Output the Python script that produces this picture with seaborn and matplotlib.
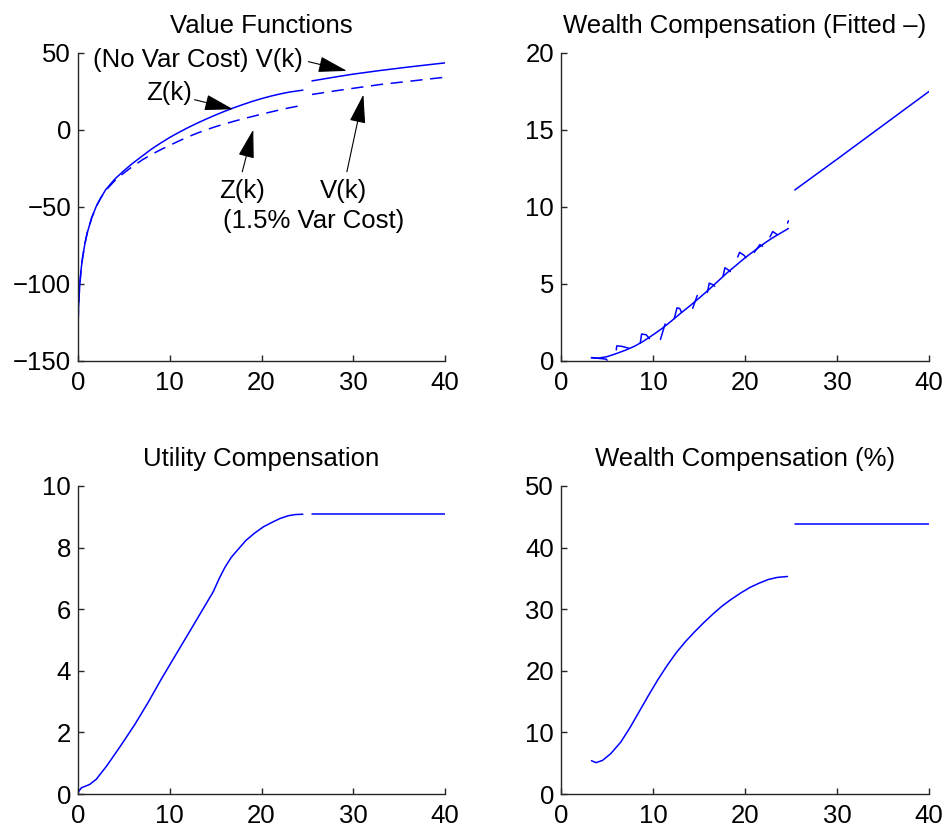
import numpy as np
import pandas as pd
import matplotlib
matplotlib.use("Agg")
import matplotlib.pyplot as plt
import seaborn as sns


# value functions, below the switch point (Z) and above it (V)
vf_k_z = [0.02, 0.05, 0.1, 0.2, 0.35, 0.5, 0.75, 1, 1.5, 2, 2.5, 3, 4, 5, 6, 7, 8, 9,
          10, 11, 12, 13, 14, 15, 16, 17, 18, 19, 20, 21, 22, 23, 24.5]
vf_z_nocost = [-125, -117, -110, -100, -90, -83, -74, -67, -57, -49.5, -44, -39, -32,
               -26.5, -21.5, -17, -12.5, -8.6, -4.9, -1.6, 1.5, 4.4, 7.1, 9.7, 12.1,
               14.4, 16.5, 18.5, 20.3, 21.9, 23.3, 24.5, 25.8]
vf_z_cost = [-125, -117, -110, -100, -90, -83, -74, -67, -57, -49.5, -44, -39.5, -33,
             -28, -23.5, -19.5, -16, -12.9, -10, -7.2, -4.5, -2.1, 0.1, 2.1, 3.9,
             5.6, 7.2, 8.7, 10.2, 11.6, 13, 14.3, 16]
vf_k_v = [25.5, 28, 30, 33, 36, 40]
vf_v_nocost = [31.8, 34.3, 36.2, 38.6, 40.8, 43.5]
vf_v_cost = [23.0, 25.3, 27.0, 29.5, 31.5, 34.2]

# wealth compensation, fitted curve and raw jagged pieces
wc_fit_k = [3.3, 4, 5, 6, 7, 8, 9, 10, 11, 12, 13, 14, 15, 16, 17, 18, 19, 20, 21, 22, 23, 24, 24.7]
wc_fit = [0.2, 0.18, 0.28, 0.48, 0.7, 0.96, 1.3, 1.7, 2.12, 2.6, 3.1, 3.58, 4.08, 4.6,
          5.15, 5.7, 6.2, 6.7, 7.15, 7.6, 8.0, 8.35, 8.6]
wc_hi_k = [25.4, 30, 35, 40]
wc_hi = [11.1, 13.1, 15.3, 17.5]
wc_raw_piece = [0, 0, 0, 1, 1, 1, 1, 2, 2, 2, 2, 3, 3, 4, 4, 4, 4, 5, 5,
                6, 6, 6, 6, 7, 7, 7, 7, 8, 8, 8, 8, 9, 9, 9, 10, 10, 10, 11, 11]
wc_raw_k = [3.3, 4.9, 5.0, 6.0, 6.05, 6.6, 7.4, 8.6, 8.75, 9.25, 9.6, 10.8, 11.3,
            12.3, 12.6, 12.9, 13.1, 14.3, 14.8, 15.9, 16.1, 16.5, 16.7,
            17.6, 17.8, 18.2, 18.4, 19.2, 19.4, 19.9, 20.1, 21.0, 21.6, 21.9,
            22.7, 23.0, 23.5, 24.62, 24.7]
wc_raw = [0.22, 0.12, 0.05, 0.72, 0.98, 0.95, 0.82, 1.15, 1.75, 1.7, 1.45, 1.4, 2.4,
          2.75, 3.45, 3.4, 3.15, 3.42, 4.25, 4.45, 5.05, 4.95, 4.85,
          5.5, 6.05, 5.9, 5.8, 6.75, 7.05, 6.85, 6.7, 7.05, 7.55, 7.45,
          8.05, 8.4, 8.2, 8.95, 9.1]

# utility compensation
uc_k = [0, 0.36, 1.27, 2, 2.55, 3.1, 3.64, 4.73, 6.2, 7.64, 9.1, 10.9, 12.7, 14.73,
        15.4, 16, 16.7, 17.45, 18.3, 19.3, 20.2, 21.1, 22, 22.9, 23.7, 24.5]
uc = [0.05, 0.2, 0.31, 0.48, 0.69, 0.9, 1.13, 1.6, 2.26, 2.97, 3.74, 4.64, 5.54, 6.56,
      7.0, 7.35, 7.68, 7.94, 8.23, 8.48, 8.67, 8.81, 8.94, 9.03, 9.07, 9.08]
uc_hi_k = [25.45, 40]
uc_hi = [9.1, 9.1]

# wealth compensation in percent
wp_k = [3.3, 3.8, 4.5, 5.4, 6.5, 7.5, 8.5, 9.5, 10.5, 11.5, 12.5, 13.5, 14.5, 15.5,
        16.5, 17.5, 18.5, 19.5, 20.5, 21.5, 22.5, 23.5, 24.6]
wp = [5.4, 5.09, 5.45, 6.55, 8.45, 10.8, 13.4, 16.0, 18.5, 20.8, 22.9, 24.7, 26.3,
      27.8, 29.2, 30.5, 31.6, 32.6, 33.5, 34.2, 34.8, 35.15, 35.3]
wp_hi_k = [25.4, 40]
wp_hi = [43.8, 43.8]


sns.set_theme(style="ticks")
plt.rcParams["font.family"] = ["Liberation Sans", "DejaVu Sans"]
plt.rcParams["text.color"] = "black"

BLUE = (0, 0, 1)
FS = 18.5


def two_pieces(k1, y1, k2, y2):
    # stack the low and high part, unit column keeps the gap between them
    return pd.DataFrame({"k": list(k1) + list(k2),
                         "y": list(y1) + list(y2),
                         "piece": [0] * len(k1) + [1] * len(k2)})


def draw(ax, df, **kw):
    sns.lineplot(data=df, x="k", y="y", units="piece", estimator=None, sort=False,
                 color=BLUE, lw=1.1, ax=ax, **kw)


def style_axis(ax, ylim, yticks, title):
    ax.set_xlim(0, 40)
    ax.set_ylim(*ylim)
    ax.set_xticks([0, 10, 20, 30, 40])
    ax.set_yticks(yticks)
    sns.despine(ax=ax)
    for s in ["left", "bottom"]:
        ax.spines[s].set_color("#262626")
        ax.spines[s].set_linewidth(1.0)
    ax.tick_params(direction="in", length=4, width=1, color="#262626",
                   labelcolor="black", labelsize=FS)
    ax.tick_params(axis="x", pad=7)
    ax.tick_params(axis="y", pad=5)
    ax.set_title(title, fontsize=FS, pad=14, color="black")
    ax.set_xlabel("")
    ax.set_ylabel("")


fig = plt.figure(figsize=(9.51, 8.35), dpi=100)
ax1 = fig.add_axes([0.082, 0.5677, 0.386, 0.369])
ax2 = fig.add_axes([0.590, 0.5677, 0.387, 0.369])
ax3 = fig.add_axes([0.082, 0.0491, 0.386, 0.369])
ax4 = fig.add_axes([0.590, 0.0491, 0.387, 0.369])

# value functions
draw(ax1, two_pieces(vf_k_z, vf_z_nocost, vf_k_v, vf_v_nocost))
draw(ax1, two_pieces(vf_k_z, vf_z_cost, vf_k_v, vf_v_cost), linestyle=(0, (8, 5)))
style_axis(ax1, (-150, 50), [-150, -100, -50, 0, 50], "Value Functions")

arrow = dict(arrowstyle="-|>,head_length=1.8,head_width=0.5", mutation_scale=10,
             color="black", lw=0.8, shrinkA=0, shrinkB=0)
ax1.annotate("", xy=(29.3, 38.3), xytext=(25.1, 44.3), arrowprops=arrow)
ax1.annotate("", xy=(16.9, 13.4), xytext=(12.7, 19.6), arrowprops=arrow)
ax1.annotate("", xy=(19.1, 0.2), xytext=(17.9, -27.2), arrowprops=arrow)
ax1.annotate("", xy=(31.1, 22.9), xytext=(29.3, -27.2), arrowprops=arrow)
ax1.text(1.6, 45.5, "(No Var Cost) V(k)", fontsize=FS, ha="left", va="center")
ax1.text(9.9, 24.2, "Z(k)", fontsize=FS, ha="center", va="center")
ax1.text(17.9, -39.5, "Z(k)", fontsize=FS, ha="center", va="center")
ax1.text(28.9, -39.5, "V(k)", fontsize=FS, ha="center", va="center")
ax1.text(25.7, -59.4, "(1.5% Var Cost)", fontsize=FS, ha="center", va="center")

# wealth compensation, fitted and raw
draw(ax2, two_pieces(wc_fit_k, wc_fit, wc_hi_k, wc_hi))
raw = pd.DataFrame({"k": wc_raw_k, "y": wc_raw, "piece": wc_raw_piece})
draw(ax2, raw)
style_axis(ax2, (0, 20), [0, 5, 10, 15, 20], "Wealth Compensation (Fitted \u2013)")

# utility compensation
draw(ax3, two_pieces(uc_k, uc, uc_hi_k, uc_hi))
style_axis(ax3, (0, 10), [0, 2, 4, 6, 8, 10], "Utility Compensation")

# wealth compensation (%)
draw(ax4, two_pieces(wp_k, wp, wp_hi_k, wp_hi))
style_axis(ax4, (0, 50), [0, 10, 20, 30, 40, 50], "Wealth Compensation (%)")

for ax in [ax1, ax2, ax3, ax4]:
    leg = ax.get_legend()
    if leg is not None:
        leg.remove()

fig.savefig("out.png", dpi=100)
